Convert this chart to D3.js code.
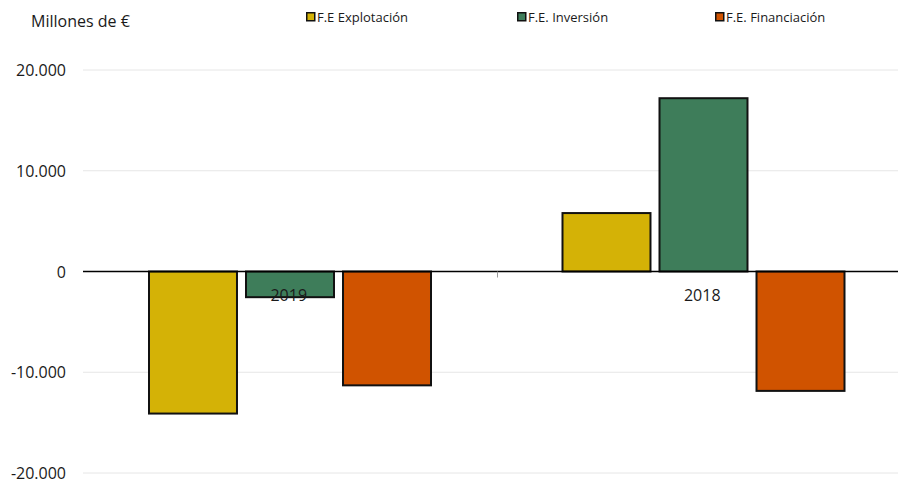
<html>
<head>
<script src="https://d3js.org/d3.v7.min.js"></script>
<style>
body { margin: 0; background: #fff; }
text { font-family: "Open Sans", "Noto Sans", sans-serif; fill: #1a1a1a; }
</style>
</head>
<body>
<svg id="chart" width="898" height="486"></svg>
<script>
// data
var years = ["2019", "2018"];
var seriesNames = ["F.E Explotación", "F.E. Inversión", "F.E. Financiación"];
var explotacion = [-14100, 5800];
var inversion = [-2550, 17200];
var financiacion = [-11300, -11850];
var yTicks = [-20000, -10000, 0, 10000, 20000];
var colors = ["#d4b206", "#3e7d5a", "#d05300"];

var values = [explotacion, inversion, financiacion];

var svg = d3.select("#chart");

var y = d3.scaleLinear().domain([-20000, 20000]).range([473, 70]);
var x0 = d3.scaleBand().domain(years).range([83, 910]);
var x1 = d3.scaleBand().domain(seriesNames).range([66, 348]).paddingInner(0.093);

// spanish thousands separator, plain hyphen for negatives
var fmt = function(v) { return (v < 0 ? "-" : "") + d3.format(",")(Math.abs(v)).replace(/,/g, "."); };

// gridlines
svg.append("g").selectAll("line")
  .data(yTicks.filter(function(t) { return t !== 0; }))
  .enter().append("line")
  .attr("x1", 83).attr("x2", 898)
  .attr("y1", function(d) { return y(d); })
  .attr("y2", function(d) { return y(d); })
  .attr("stroke", "#e6e6e6").attr("stroke-width", 1);

// y labels
svg.append("g").selectAll("text")
  .data(yTicks)
  .enter().append("text")
  .attr("x", 66)
  .attr("y", function(d) { return y(d) + 6; })
  .attr("text-anchor", "end")
  .style("font-size", "16px")
  .text(fmt);

// bars
var rows = [];
years.forEach(function(yr, i) {
  seriesNames.forEach(function(s, j) {
    rows.push({ year: yr, series: s, value: values[j][i], color: colors[j] });
  });
});

svg.append("g").selectAll("rect")
  .data(rows)
  .enter().append("rect")
  .attr("x", function(d) { return x0(d.year) + x1(d.series); })
  .attr("width", x1.bandwidth())
  .attr("y", function(d) { return y(Math.max(0, d.value)); })
  .attr("height", function(d) { return Math.abs(y(d.value) - y(0)); })
  .attr("fill", function(d) { return d.color; })
  .attr("stroke", "#111").attr("stroke-width", 2);

// zero line
svg.append("line")
  .attr("x1", 83).attr("x2", 898)
  .attr("y1", y(0)).attr("y2", y(0))
  .attr("stroke", "#000").attr("stroke-width", 1.5);

// category separator tick
svg.append("line")
  .attr("x1", Math.round(x0("2018")) + 0.5).attr("x2", Math.round(x0("2018")) + 0.5)
  .attr("y1", y(0)).attr("y2", y(0) + 6)
  .attr("stroke", "#999").attr("stroke-width", 1);

// category labels
svg.append("g").selectAll("text")
  .data(years)
  .enter().append("text")
  .attr("x", function(d) { return x0(d) + x0.bandwidth() / 2 - 1; })
  .attr("y", 301)
  .attr("text-anchor", "middle")
  .style("font-size", "16px")
  .text(function(d) { return d; });

// unit label
svg.append("text")
  .attr("x", 31).attr("y", 27)
  .style("font-size", "16px")
  .text("Millones de €");

// legend
var legendX = [306, 517, 715];
var legend = svg.append("g").selectAll("g")
  .data(seriesNames)
  .enter().append("g")
  .attr("transform", function(d, i) { return "translate(" + legendX[i] + ",12)"; });

legend.append("rect")
  .attr("x", 0.75).attr("y", 0.75)
  .attr("width", 8).attr("height", 8)
  .attr("fill", function(d, i) { return colors[i]; })
  .attr("stroke", "#111").attr("stroke-width", 1.5);

legend.append("text")
  .attr("x", 11).attr("y", 9.5)
  .style("font-size", "13px")
  .text(function(d) { return d; });
</script>
</body>
</html>
